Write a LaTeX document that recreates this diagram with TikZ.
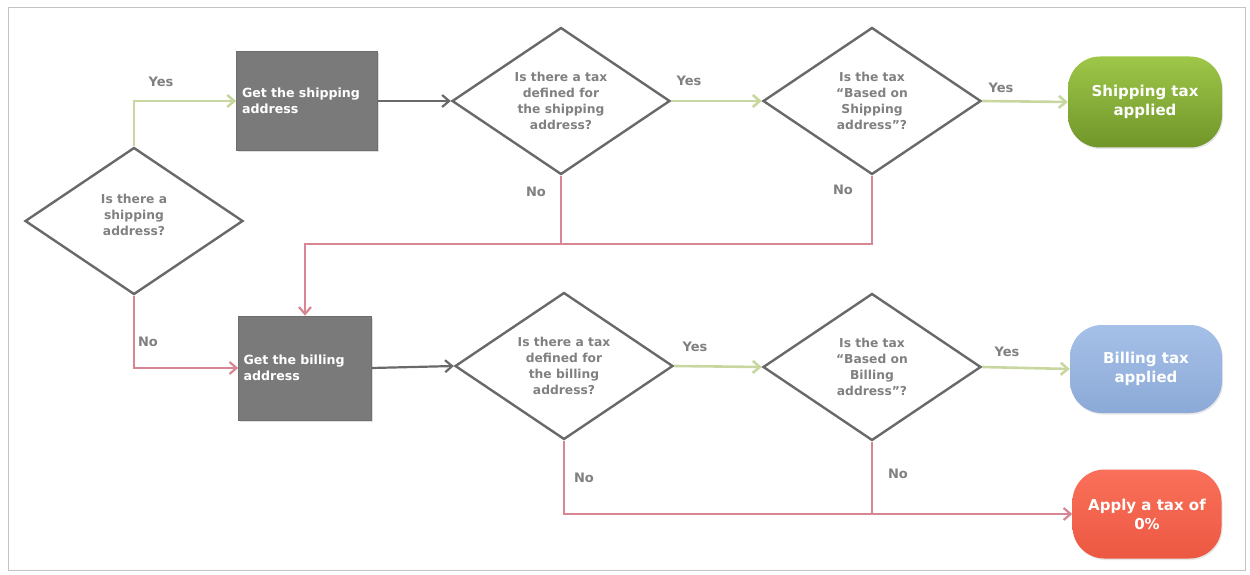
\documentclass[tikz,border=0pt]{standalone}
\usepackage{fontspec}
\setmainfont{DejaVu Sans}
\usetikzlibrary{shapes.geometric,arrows.meta,shadows}
\definecolor{dtext}{RGB}{128,128,128}
\definecolor{dline}{RGB}{105,105,105}
\definecolor{gline}{RGB}{200,215,160}
\definecolor{pline}{RGB}{215,135,148}
\definecolor{boxfill}{RGB}{122,122,122}
\definecolor{gtop}{RGB}{158,198,72}
\definecolor{gbot}{RGB}{112,150,42}
\definecolor{btop}{RGB}{165,192,232}
\definecolor{bbot}{RGB}{140,170,215}
\definecolor{rtop}{RGB}{250,112,90}
\definecolor{rbot}{RGB}{236,88,66}
\definecolor{frame}{RGB}{195,195,195}
\tikzset{
  dec/.style={diamond, draw=dline, line width=2.4pt, aspect=1.48, minimum width=218pt, minimum height=147pt, inner sep=0pt, align=center, text=dtext, font=\bfseries\fontsize{12.3}{16}\selectfont},
  procbox/.style={rectangle, fill=boxfill, draw=boxfill!90!black, line width=0.6pt, text=white, align=left, font=\bfseries\fontsize{12.6}{16}\selectfont, text width=130pt, inner xsep=5pt, drop shadow={opacity=0.25, shadow xshift=1.5pt, shadow yshift=-1.5pt}},
  term/.style={rectangle, rounded corners=32pt, text=white, align=center, font=\bfseries\fontsize{15}{19}\selectfont, drop shadow={opacity=0.2, shadow xshift=1pt, shadow yshift=-1.5pt}},
  yesarr/.style={draw=gline, line width=2.6pt, -{Straight Barb[length=7pt,width=12pt]}},
  noarr/.style={draw=pline, line width=2.2pt, -{Straight Barb[length=7pt,width=12pt]}},
  noline/.style={draw=pline, line width=2.2pt},
  darr/.style={draw=dline, line width=2.2pt, -{Straight Barb[length=7pt,width=12pt]}},
  lbl/.style={text=dtext, font=\bfseries\fontsize{13}{15}\selectfont, inner sep=0pt}
}
\begin{document}
\begin{tikzpicture}[x=1pt,y=-1pt]
\useasboundingbox (0,0) rectangle (1250,575);
\draw[frame, line width=1pt] (8,8) rectangle (1245,570);

% nodes
\node[dec] (d0) at (134,221) {Is there a\\shipping\\address?\\[-4pt]\mbox{}};
\node[procbox, minimum width=141pt, minimum height=99pt] (b1) at (307,101) {Get the shipping\\address};
\node[dec] (d1) at (561,101) {Is there a tax\\defined for\\the shipping\\address?};
\node[dec] (d2) at (872,101) {Is the tax\\``Based on\\Shipping\\address''?};
\node[term, minimum width=154pt, minimum height=91pt, top color=gtop, bottom color=gbot] (t1) at (1145,102) {Shipping tax\\applied};

\node[procbox, minimum width=133pt, minimum height=104pt, text width=123pt] (b2) at (305,368) {Get the billing\\address};
\node[dec] (d3) at (564,366) {Is there a tax\\defined for\\the billing\\address?};
\node[dec] (d4) at (872,367) {Is the tax\\``Based on\\Billing\\address''?};
\node[term, minimum width=152pt, minimum height=88pt, top color=btop, bottom color=bbot] (t2) at (1146,369) {Billing tax\\applied};
\node[term, minimum width=149pt, minimum height=89pt, top color=rtop, bottom color=rbot] (t3) at (1147,514) {Apply a tax of\\0\%};

\coordinate (j1) at (561,244);
\coordinate (j2) at (872,244);
\coordinate (j3) at (872,515);

% connectors
\draw[yesarr] (d0.north) |- (b1.west);
\draw[noarr] (d0.south) |- (b2.west);
\draw[darr] (b1.east) -- (d1.west);
\draw[yesarr] (d1.east) -- (d2.west);
\draw[yesarr] (d2.east) -- (t1.west);
\draw[noline] (d1.south) -- (j1);
\draw[noarr] (d2.south) -- (j2) -| (b2.north);
\draw[darr] (b2.east) -- (d3.west);
\draw[yesarr] (d3.east) -- (d4.west);
\draw[yesarr] (d4.east) -- (t2.west);
\draw[noarr] (d3.south) |- (t3.west);
\draw[noline] (d4.south) -- (j3);

% labels
\node[lbl] (l1) at (161,82) {Yes};
\node[lbl] (l2) at (148,342) {No};
\node[lbl] (l3) at (689,81) {Yes};
\node[lbl] (l4) at (1001,88) {Yes};
\node[lbl] (l5) at (536,192) {No};
\node[lbl] (l6) at (843,190) {No};
\node[lbl] (l7) at (695,347) {Yes};
\node[lbl] (l8) at (1007,352) {Yes};
\node[lbl] (l9) at (584,478) {No};
\node[lbl] (l10) at (898,474) {No};
\end{tikzpicture}
\end{document}
